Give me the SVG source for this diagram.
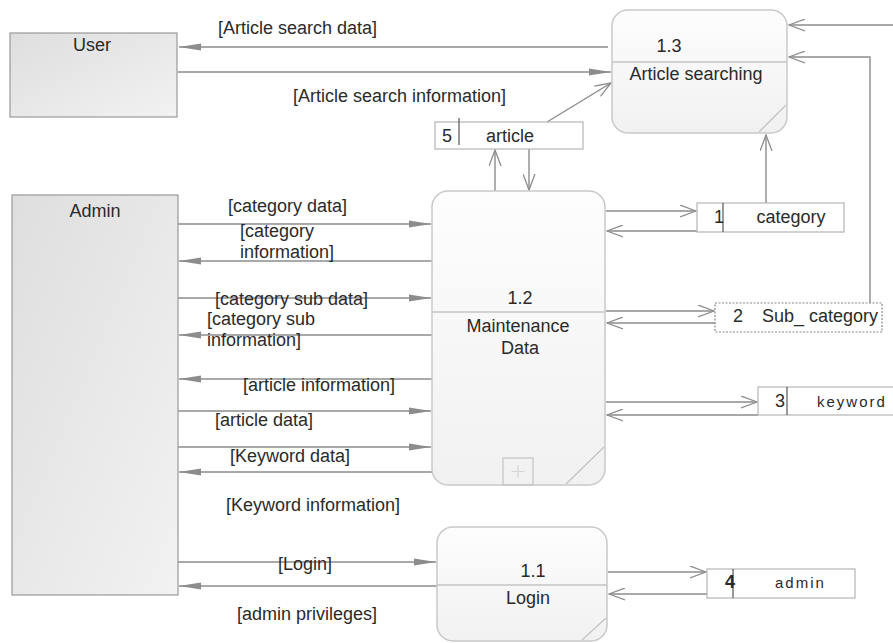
<svg xmlns="http://www.w3.org/2000/svg" width="893" height="643" viewBox="0 0 893 643">
<defs>
<linearGradient id="ent" x1="0" y1="0" x2="1" y2="1">
<stop offset="0" stop-color="#dedede"/>
<stop offset="1" stop-color="#f2f2f2"/>
</linearGradient>
<linearGradient id="proc" x1="0" y1="0" x2="0" y2="1">
<stop offset="0" stop-color="#fdfdfd"/>
<stop offset="1" stop-color="#f1f1f1"/>
</linearGradient>
<marker id="fa" viewBox="0 0 22 8" refX="22" refY="4" markerWidth="22" markerHeight="8" markerUnits="userSpaceOnUse" orient="auto">
<path d="M0,0.5 L22,4 L0,7.5 z" fill="#8c8c8c"/>
</marker>
<marker id="oa" viewBox="0 0 17 13" refX="16" refY="6.5" markerWidth="17" markerHeight="13" markerUnits="userSpaceOnUse" orient="auto">
<path d="M0,0.5 L16,6.5 L0,12.5" fill="none" stroke="#8c8c8c" stroke-width="1.3"/>
</marker>
</defs>
<style>
text{font-family:"Liberation Sans",Arial,sans-serif;font-size:18px;fill:#2a2a2a}
.c{text-anchor:middle}
.ent{fill:url(#ent);stroke:#999;stroke-width:1.2}
.proc{fill:url(#proc);stroke:#c9c9c9;stroke-width:1.5}
.pl{stroke:#c4c4c4;stroke-width:1.3;fill:none}
.store{fill:#fff;stroke:#b5b5b5;stroke-width:1.2}
.div{stroke:#555;stroke-width:1.2}
.ls{font-size:15px;letter-spacing:2px}
.fl{fill:none;stroke:#8c8c8c;stroke-width:1.4}
.f{marker-end:url(#fa)}
.o{marker-end:url(#oa)}
</style>
<rect width="893" height="643" fill="#fff"/>

<g id="connectors">
<path class="fl f" d="M608,47 L179,47"/>
<path class="fl f" d="M178,72 L611,72"/>
<path class="fl o" d="M547,122 L611,83"/>
<path class="fl o" d="M893,25 L789,25"/>
<path class="fl o" d="M870,303 L870,57 L789,57"/>
<path class="fl o" d="M766,203 L766,135"/>
<path class="fl o" d="M495,191 L495,150"/>
<path class="fl o" d="M529,149 L529,190"/>
<path class="fl o" d="M606,211 L696,211"/>
<path class="fl o" d="M697,231 L607,231"/>
<path class="fl o" d="M606,311 L714,311"/>
<path class="fl o" d="M715,323 L607,323"/>
<path class="fl o" d="M606,402 L757,402"/>
<path class="fl o" d="M758,415 L607,415"/>
<path class="fl o" d="M608,572 L706,572"/>
<path class="fl o" d="M707,594 L609,594"/>
<path class="fl f" d="M178,224 L431,224"/>
<path class="fl f" d="M432,261 L179,261"/>
<path class="fl f" d="M178,298 L431,298"/>
<path class="fl f" d="M432,335 L179,335"/>
<path class="fl f" d="M432,379 L179,379"/>
<path class="fl f" d="M178,411 L431,411"/>
<path class="fl f" d="M178,447 L431,447"/>
<path class="fl f" d="M432,472 L179,472"/>
<path class="fl f" d="M178,562 L436,562"/>
<path class="fl f" d="M437,586 L179,586"/>
<text x="218" y="34">[Article search data]</text>
<text x="293" y="102">[Article search information]</text>
<text x="228" y="212">[category data]</text>
<text x="240" y="237">[category</text>
<text x="240" y="258">information]</text>
<text x="215" y="305">[category sub data]</text>
<text x="207" y="325">[category sub</text>
<text x="207" y="346">information]</text>
<text x="243" y="391">[article information]</text>
<text x="215" y="426">[article data]</text>
<text x="230" y="462">[Keyword data]</text>
<text x="226" y="511">[Keyword information]</text>
<text x="278" y="570">[Login]</text>
<text x="237" y="620">[admin privileges]</text>
</g>

<g id="user">
<rect class="ent" x="10" y="33" width="167" height="84"/>
<text class="c" x="92" y="51">User</text>
</g>

<g id="admin">
<rect class="ent" x="12" y="195" width="166" height="400"/>
<text class="c" x="95" y="217">Admin</text>
</g>

<g id="p13">
<rect class="proc" x="612" y="10" width="175" height="123" rx="16"/>
<line class="pl" x1="612" y1="62" x2="787" y2="62"/>
<line class="pl" x1="786" y1="105" x2="759" y2="132"/>
<text class="c" x="669" y="52">1.3</text>
<text class="c" x="696" y="80">Article searching</text>
</g>

<g id="p12">
<rect class="proc" x="432" y="191" width="173" height="294" rx="16"/>
<line class="pl" x1="432" y1="312" x2="605" y2="312"/>
<line class="pl" x1="604" y1="447" x2="566" y2="484"/>
<rect x="503" y="458" width="30" height="27" fill="none" stroke="#c4c4c4" stroke-width="1.2"/>
<path d="M518,465 V478 M511.5,471.5 H524.5" stroke="#d4d4d4" stroke-width="1.2"/>
<text class="c" x="520" y="304">1.2</text>
<text class="c" x="518" y="332">Maintenance</text>
<text class="c" x="520" y="354">Data</text>
</g>

<g id="p11">
<rect class="proc" x="437" y="527" width="170" height="114" rx="16"/>
<line class="pl" x1="437" y1="585" x2="607" y2="585"/>
<line class="pl" x1="606" y1="618" x2="582" y2="640"/>
<text class="c" x="533" y="577">1.1</text>
<text class="c" x="528" y="604">Login</text>
</g>

<g id="s5">
<rect class="store" x="435" y="122" width="148" height="27"/>
<line class="div" x1="459" y1="118" x2="459" y2="145"/>
<text x="442" y="142">5</text>
<text class="c" x="510" y="142">article</text>
</g>

<g id="s1">
<rect class="store" x="697" y="203" width="147" height="29"/>
<line class="div" x1="723" y1="203" x2="723" y2="232" stroke="#777"/>
<text x="714" y="223">1</text>
<text class="c" x="791" y="223">category</text>
</g>

<g id="s2">
<rect x="715" y="303" width="167" height="29" fill="#fff" stroke="#888" stroke-width="1.2" stroke-dasharray="2,1.5"/>
<text x="733" y="322">2</text>
<text class="c" x="820" y="322">Sub_ category</text>
</g>

<g id="s3">
<rect class="store" x="758" y="387" width="140" height="28"/>
<line class="div" x1="787" y1="387" x2="787" y2="415" stroke="#999"/>
<text x="775" y="407">3</text>
<text class="ls" x="817" y="407">keyword</text>
</g>

<g id="s4">
<rect class="store" x="707" y="569" width="148" height="29"/>
<line class="div" x1="733" y1="569" x2="733" y2="598" stroke="#333" stroke-width="1.6"/>
<text x="725" y="588" font-weight="bold">4</text>
<text class="ls" x="775" y="588">admin</text>
</g>
</svg>
